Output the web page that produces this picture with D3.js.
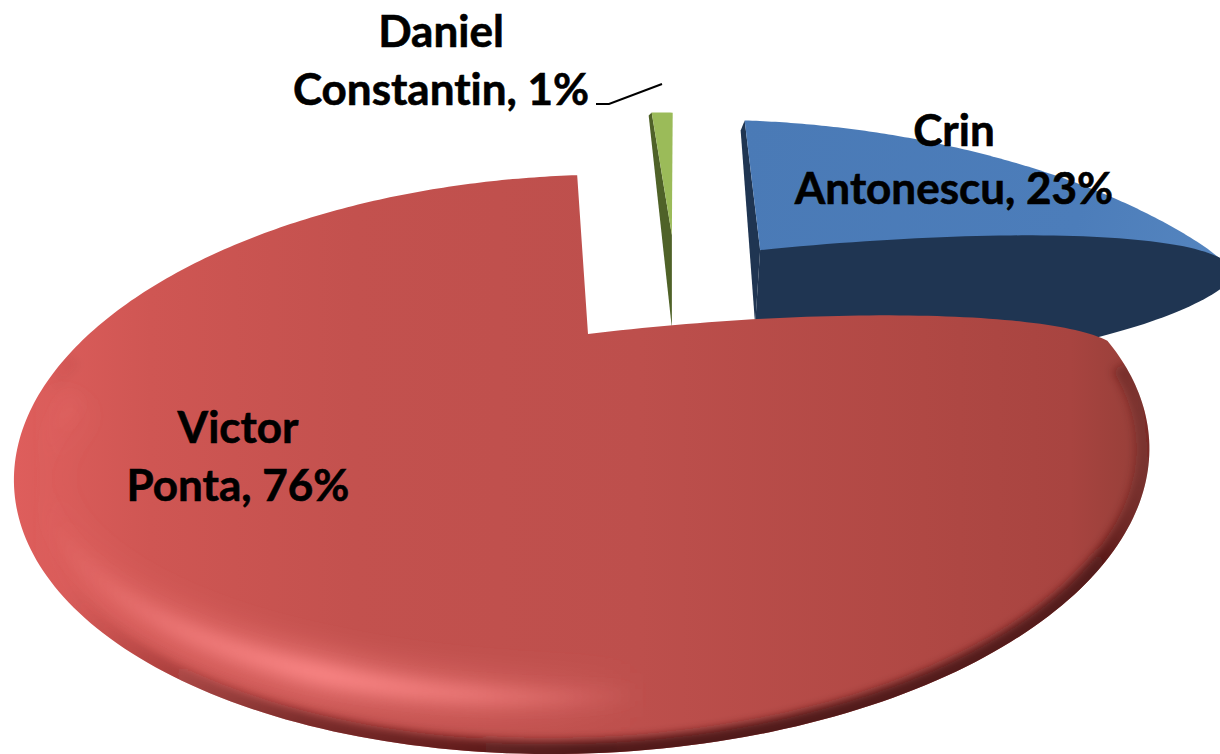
<!DOCTYPE html>
<html><head><meta charset="utf-8">
<script src="https://cdnjs.cloudflare.com/ajax/libs/d3/7.8.5/d3.min.js"></script>
<style>html,body{margin:0;background:#fff}svg{display:block}text{font-family:Lato,"Noto Sans",sans-serif;font-weight:700;font-size:44px;fill:#000;stroke:#000;stroke-width:.6px;text-anchor:middle;font-variant-ligatures:none}</style>
</head><body><script>
const categories = ["Crin Antonescu", "Victor Ponta", "Daniel Constantin"];
const shares = [23, 76, 1];
const labelLines = [["Crin", "Antonescu, 23%"], ["Victor", "Ponta, 76%"], ["Daniel", "Constantin, 1%"]];

const W = 1220, H = 754;
const svg = d3.select("body").append("svg").attr("width", W).attr("height", H);
const defs = svg.append("defs");
const line = d3.line();
const closed = d3.line().curve(d3.curveLinearClosed);

// perspective projection of the pie plane
const cx = 588, cy = 334, A = 230.7, B = 507, k = 0.45, tilt = -0.025;
const proj = (x, y) => { const w = 1 - k * y; return [cx + B * x / w, cy + A * y / w]; };
const pieLayout = d3.pie().value(d => d).sort(null)(shares);
const rim = (a, o = [0, 0], rx = 1, ry = rx) => proj(o[0] + rx * Math.sin(a), o[1] - ry * Math.cos(a));
const redRimAt = a => { const p = rim(a, [-0.01, 0]); return [p[0], p[1] + tilt * (p[0] - cx)]; };
const rad = d => d * Math.PI / 180;
const sample = (a0, a1, f, n = 120) => d3.range(n + 1).map(i => f(a0 + (a1 - a0) * i / n));
// elliptical arc from P to Q around conjugate centre C
const conj = (P, Q, C) => sample(0, Math.PI / 2, t => [
  C[0] + (P[0] - C[0]) * Math.cos(t) + (Q[0] - C[0]) * Math.sin(t),
  C[1] + (P[1] - C[1]) * Math.cos(t) + (Q[1] - C[1]) * Math.sin(t)], 60);

function grad(id, x1, y1, x2, y2, stops) {
  const g = defs.append("linearGradient").attr("id", id).attr("gradientUnits", "userSpaceOnUse")
    .attr("x1", x1).attr("y1", y1).attr("x2", x2).attr("y2", y2);
  stops.forEach(s => g.append("stop").attr("offset", s[0]).attr("stop-color", s[1]).attr("stop-opacity", s[2] ?? 1));
}
[["b14", 14], ["b8", 8], ["b5", 5]].forEach(([id, s]) => defs.append("filter").attr("id", id)
  .attr("filterUnits", "userSpaceOnUse").attr("x", -100).attr("y", -100).attr("width", W + 200).attr("height", H + 200)
  .append("feGaussianBlur").attr("stdDeviation", s));

grad("redFill", 15, 0, 1150, 0, [[0, "#DE5E5C"], [.12, "#CF5653"], [.3, "#C3514E"], [.55, "#BD4F4C"], [.8, "#B04844"], [.93, "#A84440"], [.98, "#9A403A"], [1, "#8A3A35"]]);
grad("blueFill", 745, 120, 1220, 260, [[0, "#4A7AB6"], [.7, "#4C7DBA"], [1, "#5585BF"]]);
grad("darkRim", 1170, 400, 60, 500, [[0, "#4A1414", 0], [.08, "#4A1414", .9], [.55, "#4A1414", .95], [.8, "#4A1414", .6], [1, "#4A1414", 0]]);
grad("pinkBand", 40, 0, 640, 0, [[0, "#FF8A8A", 0], [.25, "#FF8A8A", .6], [.47, "#FF8A8A", 1], [.72, "#FF8A8A", .6], [1, "#FF8A8A", 0]]);

// ---------- Blue slice ----------
const blue = pieLayout[0];
const blueTurn = rad(6.7), blueO = [0.406, -0.435];
const blueA0 = blue.startAngle + blueTurn, blueA1 = blue.endAngle + blueTurn;
const blueApex = proj(blueO[0], blueO[1]);
const blueRim = sample(blueA0, blueA1, a => rim(a, blueO, 1.06, 1.16));
const blueApexLow = [blueApex[0] - 5, blueApex[1] + 75];
const blueTip = [1232, 280];
svg.append("path").attr("d", closed([[blueRim[0][0] - 4, blueRim[0][1] + 10], blueRim[0], blueApex, blueApexLow])).attr("fill", "#1F3552");
svg.append("path").attr("d", closed([blueApex, ...blueRim, [blueTip[0], blueTip[1] - 12], blueTip])).attr("fill", "url(#blueFill)");
const sideTop = conj(blueApex, blueTip, [720, 331]);
const sideLow = conj(blueTip, [800, 372], [900, 280]);
svg.append("path").attr("d", closed([...sideTop, ...sideLow, blueApexLow])).attr("fill", "#1F3552");

// ---------- Green slice ----------
const green = pieLayout[2];
const greenTurn = rad(4.4), greenO = [0.205, -0.532];
const greenA0 = green.startAngle + greenTurn, greenA1 = green.endAngle + greenTurn;
const greenApex = proj(greenO[0], greenO[1]);
const greenRim = sample(greenA0, greenA1, a => rim(a, greenO, 1.16), 8);
const greenLow = [greenApex[0], greenApex[1] + 93];
svg.append("path").attr("d", closed([[greenRim[0][0] - 3, greenRim[0][1] + 3], greenRim[0], greenApex, greenLow])).attr("fill", "#4F6228");
svg.append("path").attr("d", closed([greenApex, ...greenRim])).attr("fill", "#9BBB59");

// ---------- Red slice ----------
const red = pieLayout[1];
const redTurn = rad(2.4);
const edgeEnd = redRimAt(rad(94.7));
const redRim = sample(rad(94.7), red.endAngle + redTurn, redRimAt, 300);
const apex = proj(0, 0);
const redTop = conj(apex, edgeEnd, [700, 390]);
const redPath = closed([...redTop, ...redRim]);
defs.append("clipPath").attr("id", "redClip").append("path").attr("d", redPath);
svg.append("path").attr("d", redPath).attr("fill", "url(#redFill)");
const shade = svg.append("g").attr("clip-path", "url(#redClip)");
// soft pink band inside the lower-left edge
const bandCurve = line(sample(rad(165), rad(262), a => {
  const p = redRimAt(a), c = [cx, 470]; return [c[0] + (p[0] - c[0]) * 0.95, c[1] + (p[1] - c[1]) * 0.8]; }, 200));
shade.append("path").attr("d", bandCurve).attr("fill", "none").attr("stroke", "url(#pinkBand)").attr("stroke-width", 44).attr("stroke-opacity", .55).attr("filter", "url(#b14)");
shade.append("path").attr("d", bandCurve).attr("fill", "none").attr("stroke", "url(#pinkBand)").attr("stroke-width", 14).attr("filter", "url(#b8)");
// dark rim along the lower edge
shade.append("path").attr("d", line(sample(rad(100), rad(268), redRimAt, 240))).attr("fill", "none").attr("stroke", "url(#darkRim)")
  .attr("stroke-width", 26).attr("filter", "url(#b5)");

// ---------- Labels ----------
const labelAt = [[954, 146], [238, 443], [441, 47]];
const lineGap = 58;
svg.append("g").selectAll("text").data(labelLines.flatMap((ls, i) => ls.map((t, j) => ({ t, x: labelAt[i][0], y: labelAt[i][1] + j * lineGap }))))
  .join("text").attr("x", d => d.x).attr("y", d => d.y).text(d => d.t);

// leader line for the small slice
svg.append("path").attr("d", line([[596, 104], [609, 104], [662, 84]])).attr("fill", "none").attr("stroke", "#000").attr("stroke-width", 2);
</script></body></html>
